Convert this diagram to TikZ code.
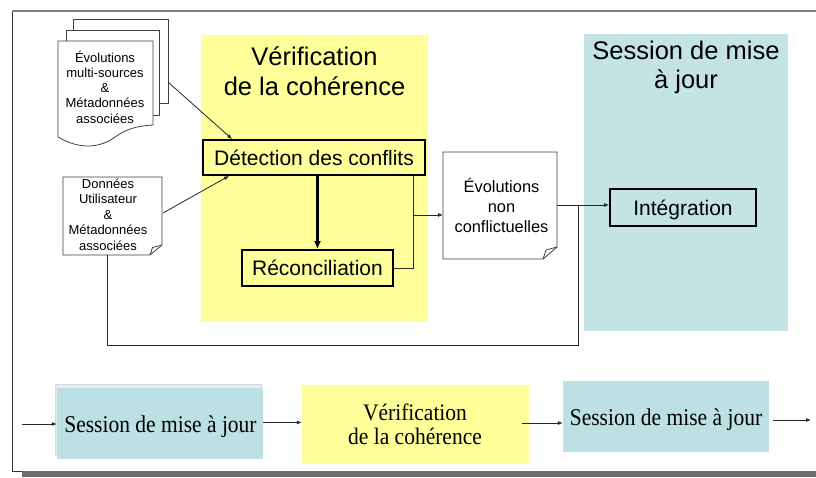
\documentclass[tikz,border=0pt]{standalone}
\usepackage{fontspec}
\usepackage{graphicx}
\setmainfont{Liberation Sans}
\newfontfamily\serifrm{Liberation Serif}
\usetikzlibrary{arrows.meta,calc}
\newcommand\mylines[1]{\begin{tabular}[t]{@{}c@{}}#1\end{tabular}}
\definecolor{yel}{RGB}{255,255,153}
\definecolor{blu}{RGB}{196,227,229}
\definecolor{blub}{RGB}{188,224,228}
\definecolor{bluback}{RGB}{222,240,246}
\begin{document}
\begin{tikzpicture}[x=1pt,y=-1pt,
  docline/.style={draw=black!75,line width=0.8pt},
  conn/.style={draw=black!85,line width=0.8pt},
  arr/.style={conn,-{Latex[length=5pt,width=4pt]}},
  procbox/.style={draw=black,line width=1.8pt,fill=#1,inner sep=0pt,
    font=\fontsize{21}{25}\selectfont,text height=15pt,text depth=0pt},
  txt/.style={anchor=base,inner sep=0pt}]
\useasboundingbox (0,0) rectangle (816,477);
% outer frame
\fill[black!57] (22,471) rectangle (816,477);
\draw[black!80,line width=0.8pt] (12,11) -- (12,471) -- (22,471);
\draw[gray,line width=1.8pt] (12,11) -- (816,11);
% background panels
\fill[yel] (201,35) rectangle (428,322);
\fill[blu] (584,34) rectangle (788,331);
\node[txt,font=\fontsize{25.5}{30}\selectfont] (ttl1) at (314.5,65) {\mylines{Vérification\\de la cohérence}};
\node[txt,font=\fontsize{25.5}{29}\selectfont] (ttl2) at (686,59) {\mylines{Session de mise\\à jour}};
% stacked documents
\filldraw[docline,fill=white] (73,103) -- (73,19) -- (168,19) -- (168,103) -- cycle;
\filldraw[docline,fill=white] (66,115) -- (66,30) -- (159,30) -- (159,115) -- cycle;
\filldraw[docline,fill=white] (58,41) -- (153,41) -- (153,125)
  .. controls (135,126) and (125,130) .. (115,137)
  .. controls (100,148) and (80,150) .. (58,137) -- cycle;
\node[txt,font=\fontsize{13}{15.3}\selectfont] (stktxt) at (105,62) {\mylines{Évolutions\\multi-sources\\\&\\Métadonnées\\associées}};
\coordinate (stk) at (168,82);
% user data document
\filldraw[docline,fill=white] (63,177) -- (162,177) -- (162,245) -- (150,255) -- (63,255) -- cycle;
\draw[docline] (150,255) -- (152.5,247.5) -- (162,245);
\node[txt,font=\fontsize{13}{15.5}\selectfont] (dontxt) at (108,188) {\mylines{Données\\Utilisateur\\\&\\Métadonnées\\associées}};
\coordinate (donE) at (163,213);
\coordinate (donS) at (107,255);
% non conflicting evolutions document
\filldraw[docline,fill=white] (443,152) -- (557,152) -- (557,247) -- (543,259) -- (443,259) -- cycle;
\draw[docline] (543,259) -- (546,250) -- (557,247);
\node[txt,font=\fontsize{16.4}{20}\selectfont] (evotxt) at (501.5,192) {\mylines{Évolutions\\non\\conflictuelles}};
\coordinate (evoW) at (443,215);
\coordinate (evoE) at (557,205);
% process boxes
\node[procbox=yel,minimum width=222pt,minimum height=35pt] (det) at (314,157.5) {Détection des conflits};
\node[procbox=yel,minimum width=151pt,minimum height=36pt] (rec) at (317.5,268) {Réconciliation};
\node[procbox=blu,minimum width=146pt,minimum height=37pt] (int) at (683,207.5) {Intégration};
\coordinate (fb) at (578,345);
% connectors
\draw[arr] (stk) -- ($(det.north west)+(30,0)$);
\draw[arr] (donE) -- ($(det.south west)+(27,0)$);
\draw[black,line width=2.6pt,-{Latex[length=8pt,width=7pt]}] (det.south -| rec) -- (rec.north);
\draw[conn] ($(det.south east)+(-13,0)$) coordinate (dd) |- (rec.east);
\draw[arr] (dd |- evoW) -- (evoW);
\draw[arr] (evoE) -- (evoE -| int.west);
\draw[conn] (donS) |- (fb) -- (fb |- evoE);
% bottom row
\filldraw[draw=black!15,fill=bluback,line width=0.6pt] (55,384) rectangle (261,455);
\fill[blub] (57,388) rectangle (263,459);
\node[inner sep=0pt,minimum width=206pt,minimum height=71pt] (b1) at (160,423.5) {};
\node[txt,font=\serifrm\fontsize{21.5}{23}\selectfont] (b1t) at (160.5,432) {\scalebox{1}[1.12]{Session de mise à jour}};
\fill[yel] (302,385) rectangle (529,464);
\node[inner sep=0pt,minimum width=227pt,minimum height=79pt] (b2) at (415.5,424.5) {};
\node[txt,font=\serifrm\fontsize{21.5}{22.5}\selectfont] (b2t) at (415,420) {\scalebox{1}[1.1]{\mylines{Vérification\\de la cohérence}}};
\fill[blub] (563,381) rectangle (769,452);
\node[inner sep=0pt,minimum width=206pt,minimum height=71pt] (b3) at (666,416.5) {};
\node[txt,font=\serifrm\fontsize{21.5}{23}\selectfont] (b3t) at (666,425) {\scalebox{1}[1.12]{Session de mise à jour}};
\coordinate (inL) at (22,424);
\coordinate (outR) at (811,420);
\draw[arr] (inL) -- (inL -| b1.west);
\draw[arr] (b1.east |- 0,422.5) -- (b2.west |- 0,422.5);
\draw[arr] ($(b2.east)+(-7,-1.5)$) -- (b3.west |- 0,423);
\draw[arr] ($(b3.east)+(4,3.5)$) -- (outR);
\end{tikzpicture}
\end{document}
